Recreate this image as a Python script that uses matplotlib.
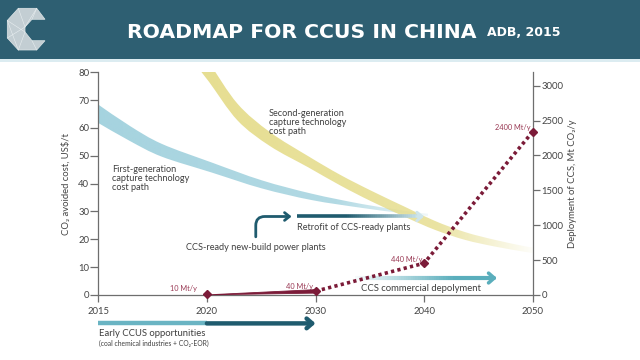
import numpy as np
import matplotlib
matplotlib.use("Agg")
import matplotlib.pyplot as plt
from matplotlib.patches import Polygon, Rectangle, PathPatch
from matplotlib.path import Path
from matplotlib.collections import LineCollection
from matplotlib.colors import to_rgb

# ---------------- data ----------------
x_ticks = [2015, 2020, 2030, 2040, 2050]
x_tick_pos = [0, 1, 2, 3, 4]          # equal spacing on the axis
left_ticks = [0, 10, 20, 30, 40, 50, 60, 70, 80]
right_ticks = [0, 500, 1000, 1500, 2000, 2500, 3000]

first_year = [2015, 2016.46, 2017.92, 2020.44, 2025.05, 2029.65, 2034.25, 2037.32, 2039.16, 2040.36]
first_upper = [68.4, 60.7, 54.3, 47.6, 41.2, 36.4, 32.7, 30.8, 29.7, 29.2]
first_lower = [61.8, 55.3, 49.7, 44.0, 38.3, 34.1, 31.3, 29.7, 28.8, 28.4]

second_year = [2019.45, 2020.19, 2022.82, 2025.81, 2029.36, 2032.26, 2035.16, 2038.38,
               2041.00, 2043.77, 2046.53, 2049.29, 2050.0]
second_upper = [91.0, 83.6, 68.7, 58.5, 49.8, 43.2, 37.4, 31.4, 26.6, 22.6, 19.8, 17.5, 17.1]
second_lower = [83.0, 76.6, 62.7, 53.5, 45.8, 39.4, 33.6, 27.8, 23.4, 19.8, 17.4, 15.5, 15.1]

deploy_year = [2020, 2030, 2040, 2050]
deploy_value = [10, 55, 455, 2340]
deploy_label = ["10 Mt/y", "40 Mt/y", "440 Mt/y", "2400 Mt/y"]

early_ccus = [2015, 2020, 2030]
retrofit = [2028.3, 2040.0]
retrofit_level = 28.2
commercial = [2033.6, 2046.7]
commercial_level = 6.1
newbuild_start = (2024.5, 20.9)
newbuild_end = (2027.8, 28.2)

# ---------------- style ----------------
FONT = ["Lato", "DejaVu Sans"]
plt.rcParams["font.family"] = FONT
TXT = "#3f3f3f"
AX = "#6e6e6e"
TEAL_D = "#1f5b6e"
TEAL_L = "#6ab4c3"
MAROON = "#7b1b38"
HEADER = "#2e5f72"

fig = plt.figure(figsize=(6.4, 3.6), dpi=100)
fig.patch.set_facecolor("white")

def fx(px):
    return px / 640.0

def fy(py):
    return 1 - py / 360.0

# header band
fig.patches.append(Rectangle((0, fy(59)), 1, 1 - fy(59), transform=fig.transFigure,
                             facecolor=HEADER, edgecolor="none", zorder=0))
fig.patches.append(Rectangle((0, fy(62)), 1, fy(59) - fy(62), transform=fig.transFigure,
                             facecolor="#dcecf1", edgecolor="none", zorder=0))
# logo
logo_px = [(18.3, 8.3), (36.7, 8.3), (45, 19.3), (32, 19.3), (25, 27), (25, 32),
           (32, 40.7), (45, 40.7), (36.7, 50), (18.3, 50), (7.3, 38), (7.3, 20.5)]
fig.patches.append(Polygon([(fx(a), fy(b)) for a, b in logo_px], closed=True,
                           transform=fig.transFigure, facecolor="#c3ced3",
                           edgecolor="#dfe6e8", lw=0.5, zorder=1))
for (a, b), (c, d) in [((18.3, 8.3), (25, 27)), ((7.3, 20.5), (25, 32)), ((36.7, 8.3), (25, 27)),
                       ((7.3, 38), (25, 27)), ((18.3, 50), (25, 32)), ((36.7, 50), (32, 40.7)),
                       ((7.3, 20.5), (18.3, 50)), ((36.7, 8.3), (32, 19.3))]:
    fig.lines.append(plt.Line2D([fx(a), fx(c)], [fy(b), fy(d)], transform=fig.transFigure,
                                color="#e8eef0", lw=0.4, zorder=2))

fig.text(fx(127), fy(32), "ROADMAP FOR CCUS IN CHINA", ha="left", va="center",
         fontsize=14.7, weight="bold", color="white", family="DejaVu Sans")
fig.text(fx(487), fy(33), "ADB, 2015", ha="left", va="center",
         fontsize=9, weight="bold", color="white", family="DejaVu Sans")

# ---------------- axes ----------------
ax = fig.add_axes([fx(98.3), fy(295), (532.7 - 98.3) / 640, (295 - 72.3) / 360])

def fwd(x):
    return np.interp(x, x_ticks, x_tick_pos)

def inv(p):
    return np.interp(p, x_tick_pos, x_ticks)

ax.set_xscale("function", functions=(fwd, inv))

def smooth_path(years, vals):
    """Catmull-Rom curve through the points, built in axis-position space."""
    p = np.column_stack([fwd(np.asarray(years, float)), np.asarray(vals, float)])
    ext = np.vstack([p[0], p, p[-1]])
    verts = [p[0]]
    for i in range(len(p) - 1):
        p0, p1, p2, p3 = ext[i], ext[i + 1], ext[i + 2], ext[i + 3]
        verts += [p1 + (p2 - p0) / 6, p2 - (p3 - p1) / 6, p2]
    verts = np.array(verts)
    verts[:, 0] = inv(verts[:, 0])
    return verts

def gradient_band(years, up, lo, color, a_pts, alphas, z):
    vu = smooth_path(years, up)
    vl = smooth_path(years, lo)[::-1]
    verts = np.vstack([vu, vl, vu[:1]])
    codes = ([Path.MOVETO] + [Path.CURVE4] * (len(vu) - 1) + [Path.LINETO]
             + [Path.CURVE4] * (len(vl) - 1) + [Path.CLOSEPOLY])
    patch = PathPatch(Path(verts, codes), facecolor="none", edgecolor="none",
                      transform=ax.transData)
    ax.add_patch(patch)
    rgb = to_rgb(color)
    xs = np.linspace(0, 1, 400)
    al = np.interp(xs, a_pts, alphas)
    img = np.zeros((2, 400, 4))
    img[..., 0], img[..., 1], img[..., 2] = rgb
    img[..., 3] = al
    im = ax.imshow(img, extent=[0, 1, 0, 1], transform=ax.transAxes, aspect="auto",
                   interpolation="bilinear", zorder=z)
    im.set_clip_path(patch)

gradient_band(first_year, first_upper, first_lower, "#a5d3df",
              [0, 0.55, 0.78], [1, 0.85, 0.1], 2)
gradient_band(second_year, second_upper, second_lower, "#e5dc8a",
              [0, 0.78, 1.0], [1, 0.8, 0.05], 2)

# retrofit arrow (gradient)
xs = np.linspace(retrofit[0], retrofit[1] - 0.5, 60)
segs = [[(xs[i], retrofit_level), (xs[i + 1], retrofit_level)] for i in range(len(xs) - 1)]
c0 = np.array(to_rgb(TEAL_D))
c1 = np.array(to_rgb("#c9e3ea"))
t = np.linspace(0, 1, len(segs))
t2 = np.clip((t - 0.4) / 0.6, 0, 1)
cols = [tuple(c0 + (c1 - c0) * v) for v in t2]
ax.add_collection(LineCollection(segs, colors=cols, linewidths=2.6, zorder=4, capstyle="butt"))
ax.annotate("", xy=(retrofit[1], retrofit_level), xytext=(retrofit[1] - 0.6, retrofit_level),
            arrowprops=dict(arrowstyle="->,head_length=0.35,head_width=0.3", color="#cfe5eb",
                            lw=2.2, shrinkA=0, shrinkB=0), zorder=4)

# new-build bent arrow
ax.annotate("", xy=newbuild_end, xytext=newbuild_start,
            arrowprops=dict(arrowstyle="->,head_length=0.35,head_width=0.28", color=TEAL_D,
                            lw=2.0, shrinkA=0, shrinkB=0,
                            connectionstyle="angle,angleA=90,angleB=0,rad=9"), zorder=4)

# commercial arrow (gradient from transparent)
xs = np.linspace(commercial[0], commercial[1] - 0.4, 60)
segs = [[(xs[i], commercial_level), (xs[i + 1], commercial_level)] for i in range(len(xs) - 1)]
cc = np.array(to_rgb("#5aaebc"))
t = np.linspace(0, 1, len(segs))
cols = [(cc[0], cc[1], cc[2], min(1.0, 0.05 + v * 1.3)) for v in t]
ax.add_collection(LineCollection(segs, colors=cols, linewidths=3.0, zorder=4, capstyle="butt"))
ax.annotate("", xy=(commercial[1], commercial_level), xytext=(commercial[1] - 0.5, commercial_level),
            arrowprops=dict(arrowstyle="->,head_length=0.4,head_width=0.35", color="#5aaebc",
                            lw=2.6, shrinkA=0, shrinkB=0), zorder=4)

# early CCUS arrow below the axis
ax.plot(early_ccus[:2], [-10.2, -10.2], color=TEAL_L, lw=3.2, solid_capstyle="butt",
        clip_on=False, zorder=4)
ax.annotate("", xy=(early_ccus[2], -10.2), xytext=(early_ccus[1], -10.2),
            arrowprops=dict(arrowstyle="->,head_length=0.4,head_width=0.35", color=TEAL_D,
                            lw=3.2, shrinkA=0, shrinkB=0), annotation_clip=False, zorder=4)
ax.text(early_ccus[0] + 0.05, -13.7, "Early CCUS opportunities", fontsize=6.8, color=TXT,
        ha="left", va="center", clip_on=False)
ax.text(early_ccus[0] + 0.05, -17.4, "(coal chemical industries + CO₂-EOR)", fontsize=4.9,
        color=TXT, ha="left", va="center", clip_on=False)

# annotations
ax.text(2015.65, 41.9, "First-generation\ncapture technology\ncost path", fontsize=6.6,
        color=TXT, ha="left", va="center", linespacing=0.95)
ax.text(2025.7, 62.0, "Second-generation\ncapture technology\ncost path", fontsize=6.6,
        color=TXT, ha="left", va="center", linespacing=0.95)
ax.text(2028.3, 24.4, "Retrofit of CCS-ready plants", fontsize=6.6, color=TXT,
        ha="left", va="center")
ax.text(2024.5, 16.9, "CCS-ready new-build power plants", fontsize=6.6, color=TXT,
        ha="center", va="center")
ax.text(2034.2, 2.4, "CCS commercial depolyment", fontsize=6.8, color=TXT,
        ha="left", va="center")

ax.set_xlim(2015, 2050)
ax.set_ylim(0, 80)
ax.set_xticks(x_ticks)
ax.set_xticklabels([str(v) for v in x_ticks])
ax.set_yticks(left_ticks)
ax.minorticks_off()
for s in ["top", "right"]:
    ax.spines[s].set_visible(False)
for s in ["left", "bottom"]:
    ax.spines[s].set_color(AX)
    ax.spines[s].set_linewidth(0.9)
ax.tick_params(axis="y", direction="out", length=6, width=0.9, color=AX, labelsize=6.8,
               labelcolor="#444444", pad=0.5)
ax.tick_params(axis="x", direction="out", length=5, width=0.9, color=AX, labelsize=6.8,
               labelcolor="#444444", pad=3.5)
ax.set_ylabel("CO₂ avoided cost, US$/t", fontsize=6.8, color="#444444")
ax.yaxis.set_label_coords((71 - 98.3) / 434.4, 0.5)
ax.set_facecolor("none")

# ---------------- right axis: deployment ----------------
ax2 = ax.twinx()
ax2.set_ylim(0, 3192)
ax2.set_yticks(right_ticks)
for s in ["top", "left", "bottom"]:
    ax2.spines[s].set_visible(False)
ax2.spines["right"].set_color(AX)
ax2.spines["right"].set_linewidth(0.9)
ax2.tick_params(axis="y", direction="out", length=5, width=0.9, color=AX, labelsize=6.8,
                labelcolor="#444444", pad=1.5)
ax2.set_ylabel("Deployment of CCS, Mt CO₂/y", fontsize=6.8, color="#444444")
ax2.yaxis.set_label_coords((568 - 98.3) / 434.4, 0.5)

# solid wedge 2020 -> 2030
ax2.fill([deploy_year[0], deploy_year[1], deploy_year[1]],
         [deploy_value[0] - 8, deploy_value[1] - 28, deploy_value[1] + 22],
         color=MAROON, lw=0.6, ec=MAROON, zorder=5, clip_on=False)
ax2.plot(deploy_year[1:], deploy_value[1:], color=MAROON, lw=2.6,
         linestyle=(0, (0.9, 0.9)), dash_capstyle="butt", zorder=5)
ax2.plot(deploy_year, deploy_value, linestyle="none", marker="D", markersize=4.3,
         color=MAROON, zorder=6, clip_on=False)
label_off = [(-7, 2), (-1.5, 1), (-1.5, 0.5), (-1.5, 0.5)]
for xv, yv, lab, off in zip(deploy_year, deploy_value, deploy_label, label_off):
    ax2.annotate(lab, (xv, yv), xytext=off, textcoords="offset points", ha="right",
                 va="bottom", fontsize=5.3, color="#9a3a55")

fig.savefig("out.png", dpi=100)
